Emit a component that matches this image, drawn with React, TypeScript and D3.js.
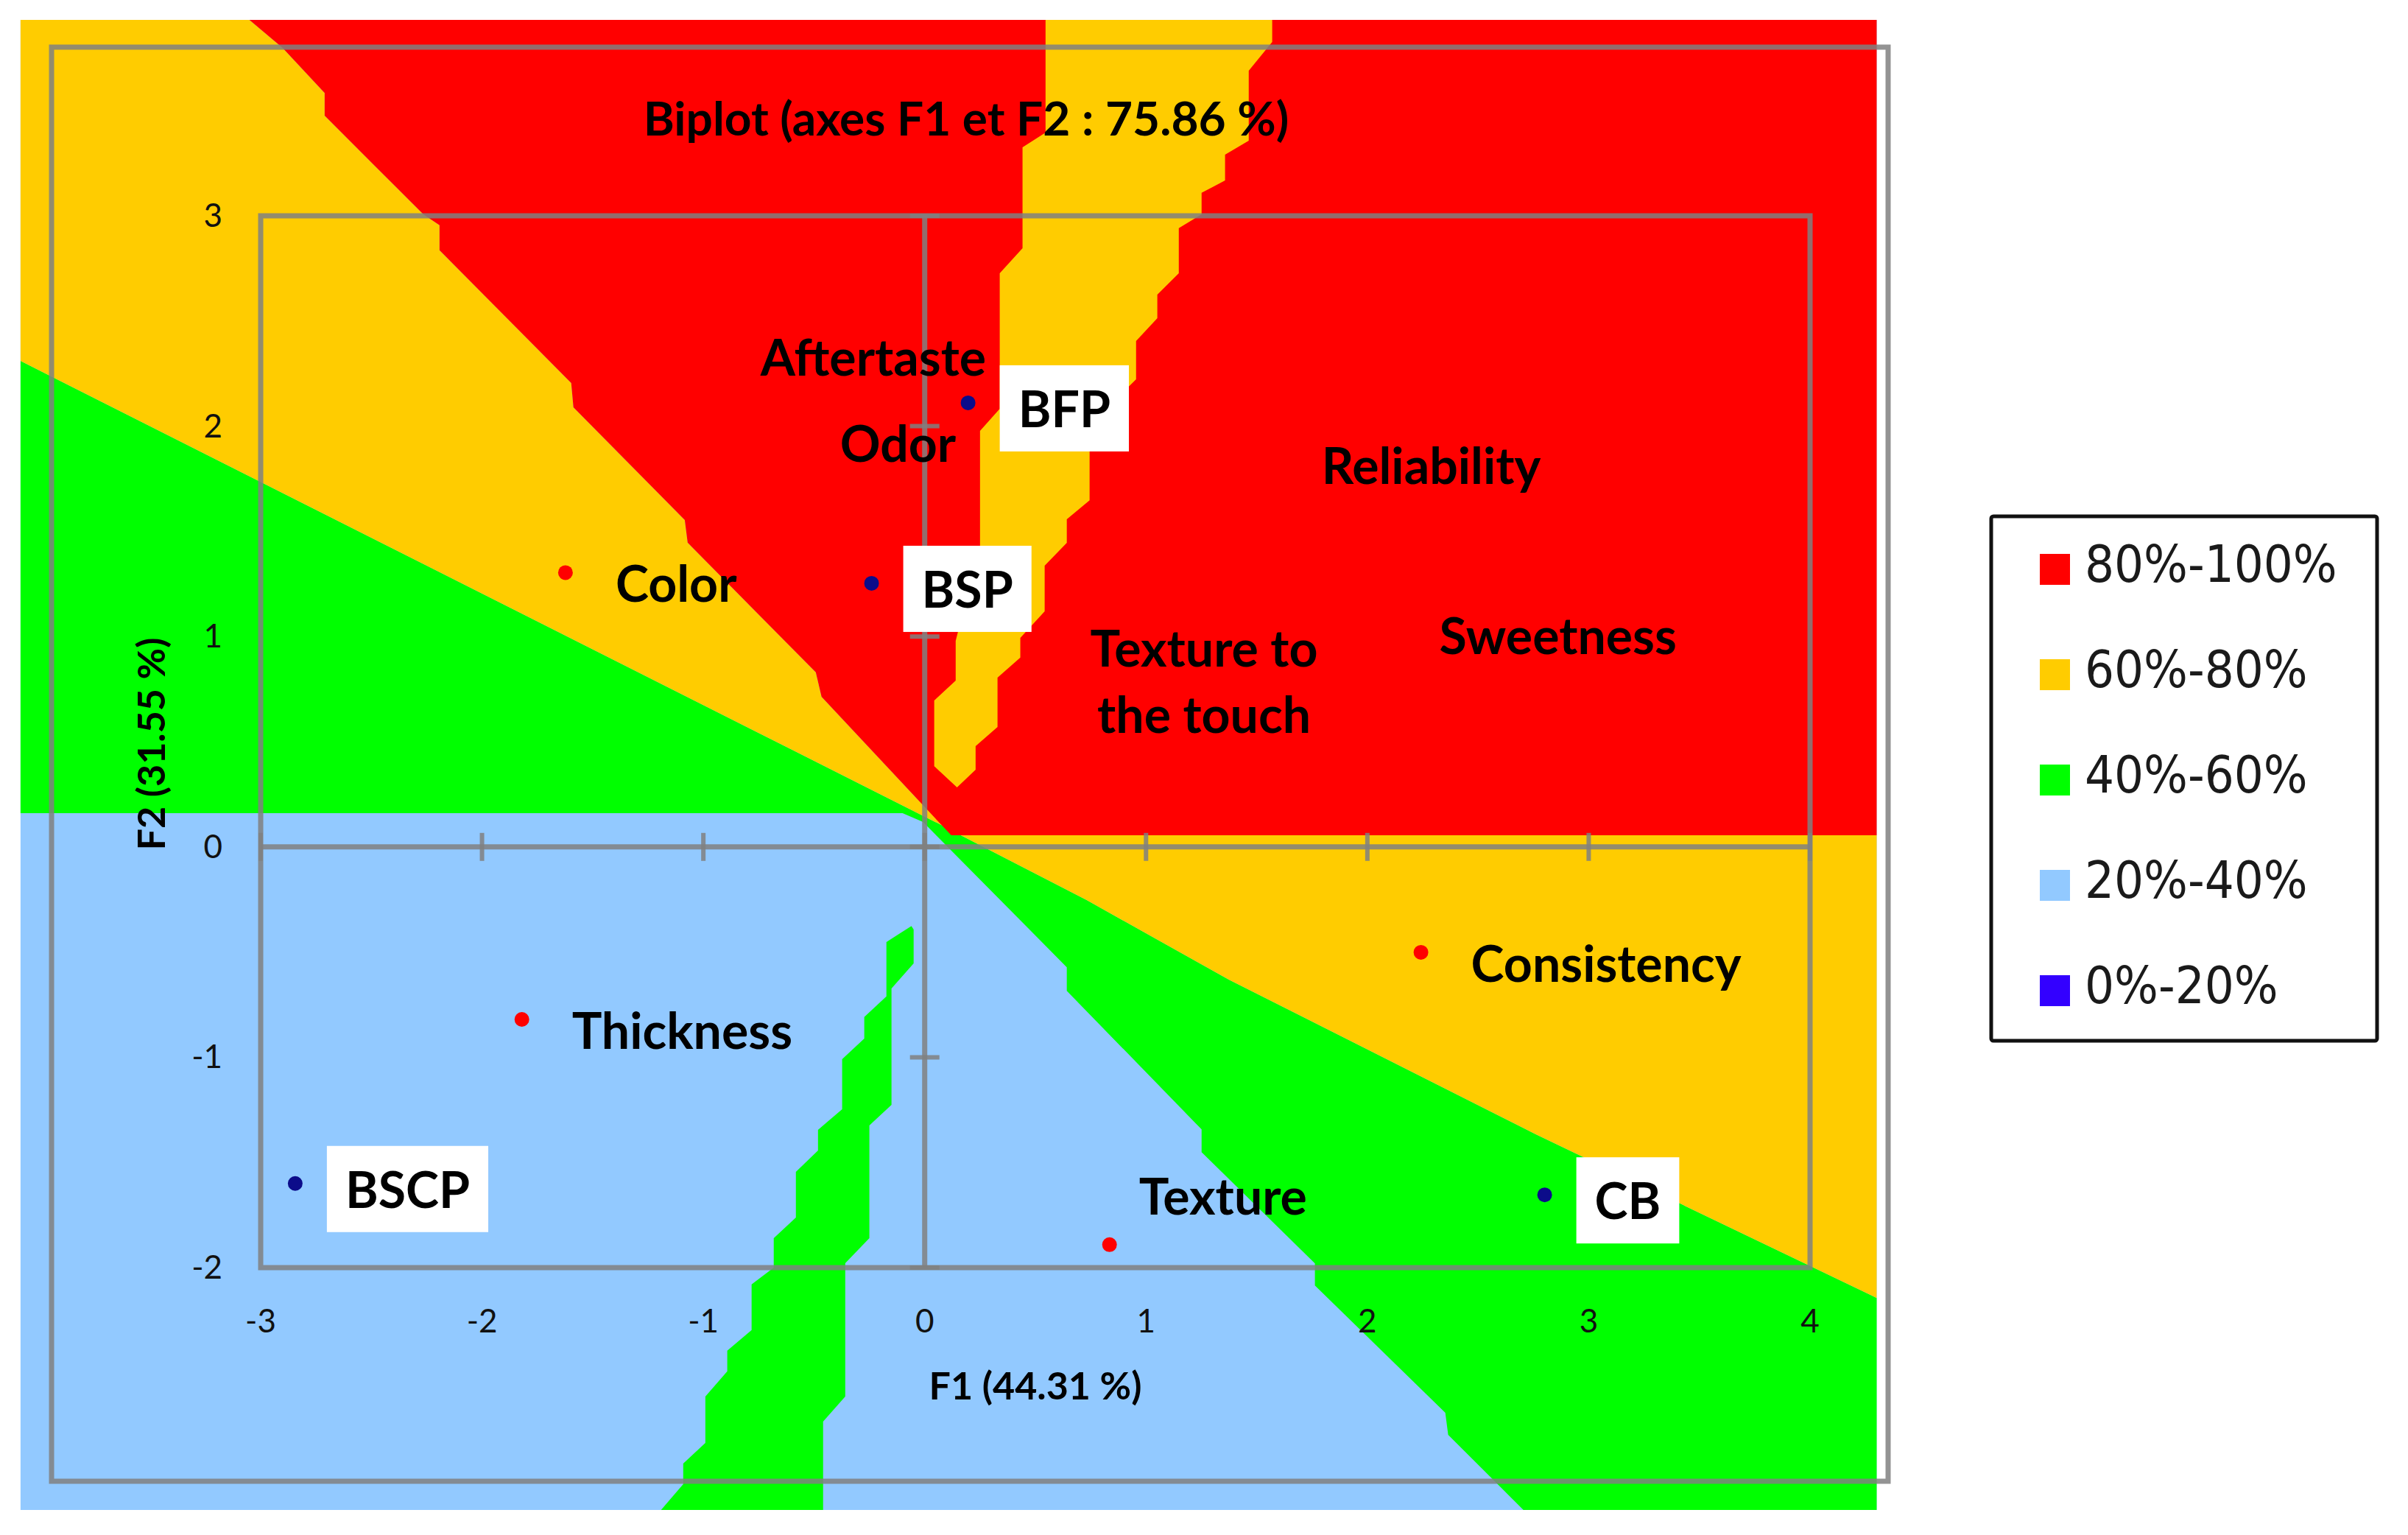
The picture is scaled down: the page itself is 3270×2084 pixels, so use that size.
import { useEffect, useRef } from "react";
import * as d3 from "d3";

const W = 3270;
const H = 2084;

const xTicks = [-3, -2, -1, 0, 1, 2, 3, 4];
const yTicks = [-2, -1, 0, 1, 2, 3];

const legendLabels = ["80%-100%", "60%-80%", "40%-60%", "20%-40%", "0%-20%"];
const legendColors = ["#FF0000", "#FFCC00", "#00FF00", "#92C9FF", "#3300FF"];

// preference map zones in F1 / F2 units
const mapX = [-4.085, 4.301];
const mapY = [-3.152, 3.931];
const redFloor = 0.055;
const blueCeiling = 0.16;
const blueCeilingEnd = -0.1;

// red / yellow border, top left
const contourHigh = [
  [-3.051, 3.931], [-2.901, 3.798], [-2.711, 3.584], [-2.711, 3.476],
  [-2.265, 3.007], [-2.192, 2.955], [-2.192, 2.836], [-1.597, 2.205],
  [-1.587, 2.09], [-1.084, 1.554], [-1.071, 1.446], [-0.492, 0.83],
  [-0.466, 0.714], [-0.037, 0.231], [0.12, 0.055],
];
// blue / green border, bottom right
const contourLow = [
  [-0.007, 0.118], [0.642, -0.572], [0.642, -0.684], [1.251, -1.343],
  [1.251, -1.451], [1.763, -1.98], [1.763, -2.085], [2.352, -2.69],
  [2.365, -2.795], [2.705, -3.152],
];
// green / yellow border
const contourMid = [
  [-4.085, 2.31], [0.083, 0.1], [0.163, 0.055], [0.732, -0.253],
  [1.374, -0.631], [2.761, -1.366], [4.301, -2.144],
];
// yellow strip inside the red zone
const yellowBand = [
  [0.546, 3.931], [0.546, 3.396], [0.442, 3.326], [0.442, 2.846],
  [0.339, 2.727], [0.339, 2.083], [0.25, 1.978], [0.25, 1.431],
  [0.14, 0.98], [0.14, 0.791], [0.043, 0.696], [0.043, 0.384],
  [0.146, 0.283], [0.23, 0.367], [0.23, 0.479], [0.329, 0.57],
  [0.329, 0.805], [0.432, 0.9], [0.432, 0.994], [0.542, 1.12],
  [0.542, 1.337], [0.642, 1.445], [0.642, 1.557], [0.745, 1.648],
  [0.745, 1.883], [0.898, 2.163], [0.955, 2.223], [0.955, 2.405],
  [1.051, 2.513], [1.051, 2.625], [1.148, 2.727], [1.148, 2.941],
  [1.251, 3.007], [1.251, 3.109], [1.357, 3.168], [1.357, 3.291],
  [1.464, 3.357], [1.464, 3.69], [1.57, 3.826], [1.57, 3.931],
];
// green strip inside the blue zone
const greenSliver = [
  [-0.06, -0.376], [-0.05, -0.393], [-0.05, -0.554], [-0.15, -0.673],
  [-0.15, -1.226], [-0.25, -1.324], [-0.25, -1.86], [-0.359, -1.979],
  [-0.359, -2.613], [-0.459, -2.732], [-0.459, -3.152], [-1.191, -3.152],
  [-1.091, -3.029], [-1.091, -2.931], [-0.991, -2.833], [-0.991, -2.613],
  [-0.892, -2.493], [-0.892, -2.395], [-0.782, -2.297], [-0.782, -2.08],
  [-0.682, -2.0], [-0.682, -1.86], [-0.582, -1.762], [-0.582, -1.545],
  [-0.482, -1.443], [-0.482, -1.345], [-0.373, -1.247], [-0.373, -1.009],
  [-0.273, -0.911], [-0.273, -0.809], [-0.173, -0.711], [-0.173, -0.452],
];

const products = [
  { name: "BSP", x: -0.24, y: 1.253 },
  { name: "BFP", x: 0.196, y: 2.111 },
  { name: "BSCP", x: -2.844, y: -1.6 },
  { name: "CB", x: 2.801, y: -1.654 },
];

const attributes = [
  { name: "Aftertaste", x: -0.968, y: 2.38 },
  { name: "Odor", x: -0.609, y: 1.97 },
  { name: "Color", x: -1.623, y: 1.304 },
  { name: "Reliability", x: 1.567, y: 1.865 },
  { name: "Sweetness", x: 2.099, y: 1.056 },
  { name: "Texture to the touch", x: 0.55, y: 0.98 },
  { name: "Consistency", x: 2.242, y: -0.501 },
  { name: "Thickness", x: -1.82, y: -0.82 },
  { name: "Texture", x: 0.835, y: -1.891 },
];

const FONT = "Lato, 'Open Sans', sans-serif";
const GRAY = "#808080";

export default function App() {
  const ref = useRef<SVGSVGElement>(null);

  useEffect(() => {
    const svg = d3.select(ref.current);
    svg.selectAll("*").remove();

    const x = d3.scaleLinear().domain([-3, 4]).range([354, 2458]);
    const y = d3.scaleLinear().domain([-2, 3]).range([1721, 293]);
    const line = d3
      .line<number[]>()
      .x((d) => x(d[0]))
      .y((d) => y(d[1]));
    const shape = (pts: number[][]) => line(pts) + "Z";

    svg.append("rect").attr("width", W).attr("height", H).attr("fill", "#fff");

    // zones
    const red = [...contourHigh, [mapX[1], redFloor], [mapX[1], mapY[1]]];
    const yellowLeft = [
      [mapX[0], mapY[1]],
      ...contourHigh.slice(0, -1),
      contourMid[1],
      contourMid[0],
    ];
    const yellowRight = [[mapX[1], redFloor], ...contourMid.slice(2).reverse()];
    const green = [
      ...contourMid,
      [mapX[1], mapY[0]],
      ...contourLow.slice().reverse(),
      [blueCeilingEnd, blueCeiling],
      [mapX[0], blueCeiling],
    ];

    const map = svg.append("g");
    map
      .append("rect")
      .attr("x", x(mapX[0]))
      .attr("y", y(mapY[1]))
      .attr("width", x(mapX[1]) - x(mapX[0]))
      .attr("height", y(mapY[0]) - y(mapY[1]))
      .attr("fill", legendColors[3]);

    const zones = [
      { pts: green, c: legendColors[2] },
      { pts: yellowLeft, c: legendColors[1] },
      { pts: yellowRight, c: legendColors[1] },
      { pts: red, c: legendColors[0] },
      { pts: yellowBand, c: legendColors[1] },
      { pts: greenSliver, c: legendColors[2] },
    ];
    map
      .selectAll("path")
      .data(zones)
      .enter()
      .append("path")
      .attr("d", (d) => shape(d.pts))
      .attr("fill", (d) => d.c);

    // outer chart frame
    svg
      .append("rect")
      .attr("x", 70)
      .attr("y", 64)
      .attr("width", 2494)
      .attr("height", 1947)
      .attr("fill", "none")
      .attr("stroke", GRAY)
      .attr("stroke-opacity", 0.85)
      .attr("stroke-width", 7);

    // plot frame
    svg
      .append("rect")
      .attr("x", x(-3))
      .attr("y", y(3))
      .attr("width", x(4) - x(-3))
      .attr("height", y(-2) - y(3))
      .attr("fill", "none")
      .attr("stroke", GRAY)
      .attr("stroke-opacity", 0.85)
      .attr("stroke-width", 7);

    // axes through origin
    const axes = svg
      .append("g")
      .attr("stroke", GRAY)
      .attr("stroke-opacity", 0.85)
      .attr("stroke-width", 7);
    axes
      .append("line")
      .attr("x1", x(-3))
      .attr("x2", x(4))
      .attr("y1", y(0))
      .attr("y2", y(0));
    axes
      .append("line")
      .attr("x1", x(0))
      .attr("x2", x(0))
      .attr("y1", y(-2))
      .attr("y2", y(3));
    axes
      .selectAll(".xt")
      .data(xTicks)
      .enter()
      .append("line")
      .attr("stroke-width", 6)
      .attr("x1", (d) => x(d))
      .attr("x2", (d) => x(d))
      .attr("y1", y(0) - 19)
      .attr("y2", y(0) + 19);
    axes
      .selectAll(".yt")
      .data(yTicks)
      .enter()
      .append("line")
      .attr("stroke-width", 6)
      .attr("y1", (d) => y(d))
      .attr("y2", (d) => y(d))
      .attr("x1", x(0) - 20)
      .attr("x2", x(0) + 20);

    // tick labels
    svg
      .append("g")
      .selectAll("text")
      .data(xTicks)
      .enter()
      .append("text")
      .attr("x", (d) => x(d))
      .attr("y", 1809)
      .attr("text-anchor", "middle")
      .attr("font-family", FONT)
      .attr("font-size", 44)
      .attr("fill", "#111")
      .text((d) => d);
    svg
      .append("g")
      .selectAll("text")
      .data(yTicks)
      .enter()
      .append("text")
      .attr("x", 302)
      .attr("y", (d) => y(d) + 15)
      .attr("text-anchor", "end")
      .attr("font-family", FONT)
      .attr("font-size", 44)
      .attr("fill", "#111")
      .text((d) => d);

    // titles
    svg
      .append("text")
      .attr("x", 1312)
      .attr("y", 184)
      .attr("text-anchor", "middle")
      .attr("font-family", FONT)
      .attr("font-weight", 700)
      .attr("font-size", 64)
      .text("Biplot (axes F1 et F2 : 75.86 %)");
    svg
      .append("text")
      .attr("x", 1406)
      .attr("y", 1900)
      .attr("text-anchor", "middle")
      .attr("font-family", FONT)
      .attr("font-weight", 700)
      .attr("font-size", 52)
      .text("F1 (44.31 %)");
    svg
      .append("text")
      .attr("transform", "translate(224,1010) rotate(-90)")
      .attr("text-anchor", "middle")
      .attr("font-family", FONT)
      .attr("font-weight", 700)
      .attr("font-size", 52)
      .text("F2 (31.55 %)");

    // attribute points and labels
    const att = svg.append("g");
    att
      .selectAll("circle")
      .data(attributes)
      .enter()
      .append("circle")
      .attr("cx", (d) => x(d.x))
      .attr("cy", (d) => y(d.y))
      .attr("r", 10)
      .attr("fill", "#FF0000");
    attributes.forEach((d) => {
      const px = x(d.x);
      const py = y(d.y);
      const t = att
        .append("text")
        .attr("font-family", FONT)
        .attr("font-weight", 700)
        .attr("font-size", 68)
        .attr("fill", "#000");
      if (d.name === "Texture to the touch") {
        t.attr("text-anchor", "middle");
        t.append("tspan").attr("x", px + 214).attr("y", py + 35).text("Texture to");
        t.append("tspan").attr("x", px + 214).attr("y", py + 125).text("the touch");
      } else if (d.name === "Texture") {
        t.attr("x", px + 40).attr("y", py - 41).text(d.name);
      } else {
        t.attr("x", px + 68).attr("y", py + 40).text(d.name);
      }
    });

    // product points with boxed labels
    const prod = svg.append("g");
    products.forEach((d) => {
      const px = x(d.x);
      const py = y(d.y);
      prod
        .append("circle")
        .attr("cx", px)
        .attr("cy", py)
        .attr("r", 10)
        .attr("fill", "#0c0c8a");
      const box = prod.append("rect").attr("fill", "#fff");
      const t = prod
        .append("text")
        .attr("x", px + 68)
        .attr("y", py + 33)
        .attr("font-family", FONT)
        .attr("font-weight", 700)
        .attr("font-size", 68)
        .attr("fill", "#000")
        .text(d.name);
      const tw = (t.node() as SVGTextElement).getComputedTextLength();
      box
        .attr("x", px + 43)
        .attr("y", py + 7 - 58)
        .attr("width", tw + 50)
        .attr("height", 117);
    });

    // legend
    const lg = svg.append("g");
    lg.append("rect")
      .attr("x", 2704)
      .attr("y", 701)
      .attr("width", 524)
      .attr("height", 712)
      .attr("rx", 3)
      .attr("fill", "#fff")
      .attr("stroke", "#111")
      .attr("stroke-width", 5);
    const items = lg
      .selectAll(".item")
      .data(legendLabels)
      .enter()
      .append("g")
      .attr("transform", (d, i) => "translate(2770," + (773 + i * 143) + ")");
    items
      .append("rect")
      .attr("x", 0)
      .attr("y", -21)
      .attr("width", 41)
      .attr("height", 42)
      .attr("fill", (d, i) => legendColors[i]);
    items
      .append("text")
      .attr("x", 61)
      .attr("y", 17)
      .attr("font-family", "'DejaVu Sans Condensed', 'DejaVu Sans', sans-serif")
      .attr("font-stretch", "condensed")
      .attr("font-size", 70)
      .attr("fill", "#1a1a1a")
      .text((d) => d);
  }, []);

  return (
    <svg
      ref={ref}
      width={W}
      height={H}
      style={{ position: "absolute", left: 0, top: 0, display: "block" }}
    />
  );
}
